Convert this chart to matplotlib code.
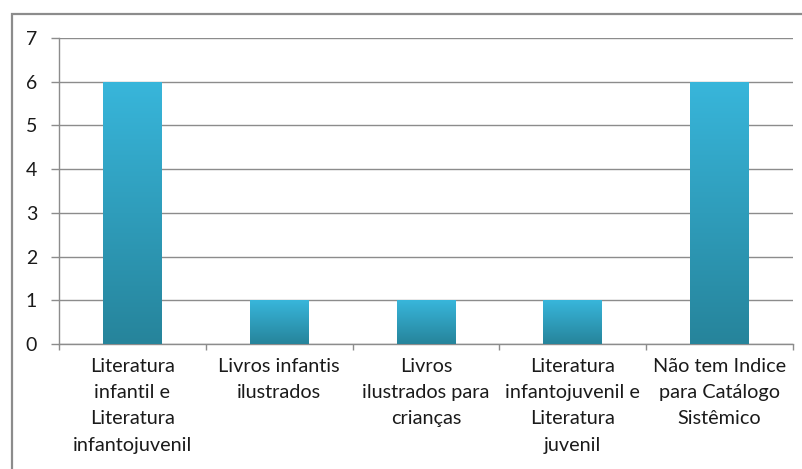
import matplotlib
matplotlib.use('Agg')
import matplotlib.pyplot as plt
import numpy as np
from matplotlib.colors import LinearSegmentedColormap
from matplotlib.patches import Rectangle

# ---------------- Data ----------------
categories = [
    "Literatura\ninfantil e\nLiteratura\ninfantojuvenil",
    "Livros infantis\nilustrados",
    "Livros\nilustrados para\ncrianças",
    "Literatura\ninfantojuvenil e\nLiteratura\njuvenil",
    "Não tem Indice\npara Catálogo\nSistêmico",
]
values = [6, 1, 1, 1, 6]
y_ticks = [0, 1, 2, 3, 4, 5, 6, 7]

plt.rcParams['font.family'] = ['Lato', 'DejaVu Sans']

fig = plt.figure(figsize=(8.03, 4.69), dpi=100)
ax = fig.add_axes([59 / 803, 1 - 344 / 469, (793 - 59) / 803, (344 - 38) / 469])

# outer chart frame (Excel style)
fig.patches.append(Rectangle((12 / 803, -0.1), 1.2, 0.97 + 0.1, transform=fig.transFigure,
                             fill=False, edgecolor='#8c8c8c', linewidth=1.6))

x = np.arange(len(values))
bars = ax.bar(x, values, width=0.4, color='none', edgecolor='none', zorder=3)

# vertical gradient fill per bar
cmap = LinearSegmentedColormap.from_list('bar', ['#26849b', '#38b6db'])
grad = np.linspace(0, 1, 256).reshape(-1, 1)
for b in bars:
    x0, w, h = b.get_x(), b.get_width(), b.get_height()
    im = ax.imshow(grad, extent=[x0, x0 + w, 0, h], origin='lower', cmap=cmap,
                   aspect='auto', zorder=3)
    im.set_clip_path(b)

ax.set_xlim(-0.5, len(values) - 0.5)
ax.set_ylim(0, 7)
ax.set_yticks(y_ticks)
ax.set_yticklabels([str(v) for v in y_ticks], fontsize=14, color='#1a1a1a')

ax.set_xticks(x)
ax.set_xticklabels(categories, fontsize=14.3, color='#1a1a1a', linespacing=1.66)
ax.tick_params(axis='x', which='major', length=0, pad=10)
ax.set_xticks(np.arange(-0.5, len(values)), minor=True)
ax.tick_params(axis='x', which='minor', length=4.3, color='#8c8c8c', width=1)
ax.tick_params(axis='y', length=5.8, color='#8c8c8c', width=1, pad=10)

ax.grid(axis='y', color='#8c8c8c', linewidth=1, zorder=0)
ax.set_axisbelow(True)
for s in ['top', 'right']:
    ax.spines[s].set_visible(False)
for s in ['left', 'bottom']:
    ax.spines[s].set_color('#8c8c8c')
    ax.spines[s].set_linewidth(1)

fig.savefig('out.png', dpi=100)
